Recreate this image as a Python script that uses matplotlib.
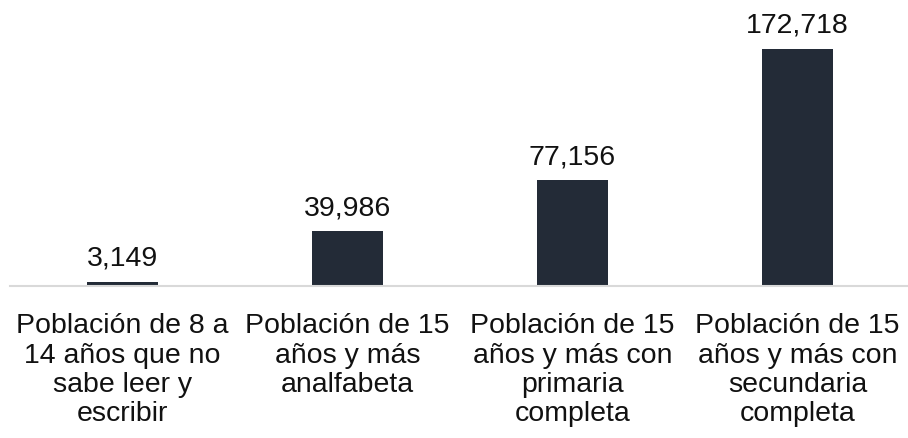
import matplotlib.pyplot as plt
import numpy as np

plt.rcParams['font.family'] = ['Liberation Sans', 'DejaVu Sans']

categorias = ['Población de 8 a\n14 años que no\nsabe leer y\nescribir',
              'Población de 15\naños y más\nanalfabeta',
              'Población de 15\naños y más con\nprimaria\ncompleta',
              'Población de 15\naños y más con\nsecundaria\ncompleta']
valores = [3149, 39986, 77156, 172718]

fig = plt.figure(figsize=(9.08, 4.39), dpi=100)
ax = fig.add_axes([10/908, 1 - 287/439, 900/908, 287/439])

x = np.arange(len(categorias))
bars = ax.bar(x, valores, width=0.315, color='#232b37')
ax.set_xlim(-0.5, 3.5)
ax.set_ylim(0, 209150)

for b, v in zip(bars, valores):
    ax.annotate(f'{v:,}', (b.get_x() + b.get_width()/2, v), xytext=(0, 8),
                textcoords='offset points', ha='center', va='bottom',
                fontsize=20.5, color='#111111')

ax.set_xticks(x)
ax.set_xticklabels(categorias, fontsize=20.5, linespacing=1.16, color='#111111')
ax.tick_params(axis='x', length=0, pad=19)
ax.set_yticks([])
for s in ['top', 'right', 'left']:
    ax.spines[s].set_visible(False)
ax.spines['bottom'].set_color('#d9d9d9')
ax.spines['bottom'].set_linewidth(1.5)

fig.savefig('out.png', dpi=100)
